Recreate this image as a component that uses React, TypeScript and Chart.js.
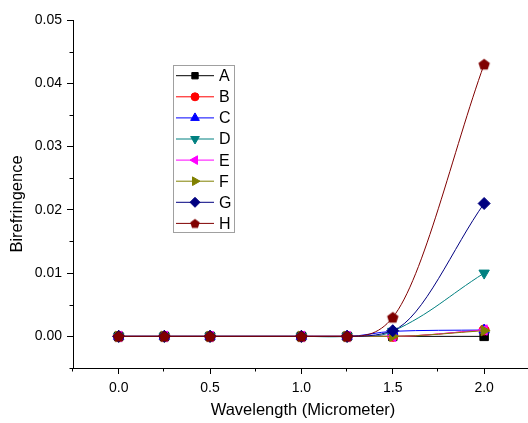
import React, { useEffect, useRef } from 'react';
import { Chart, registerables } from 'chart.js';
import { drawPoint } from 'chart.js/helpers';

Chart.register(...registerables);

// ---- data ----
const wavelengths = [0, 0.25, 0.5, 1.0, 1.25, 1.5, 2.0];
const seriesNames = ['A', 'B', 'C', 'D', 'E', 'F', 'G', 'H'];
const seriesA = [0, 0, 0, 0, 0, 0, 0];
const seriesB = [0, 0, 0, 0, 0, 0, 0.001];
const seriesC = [0, 0, 0, 0, 0, 0.0008, 0.001];
const seriesD = [0, 0, 0, 0, 0, 0.0008, 0.01];
const seriesE = [0, 0, 0, 0, 0, 0, 0.001];
const seriesF = [0, 0, 0, 0, 0, 0, 0.0009];
const seriesG = [0, 0, 0, 0, 0, 0.0009, 0.021];
const seriesH = [0, 0, 0, 0, 0, 0.003, 0.043];
const allSeries = [seriesA, seriesB, seriesC, seriesD, seriesE, seriesF, seriesG, seriesH];

const xTickValues = [0, 0.5, 1.0, 1.5, 2.0];
const xMinorTicks = [-0.25, 0.25, 0.75, 1.25, 1.75, 2.25];
const yTickValues = [0, 0.01, 0.02, 0.03, 0.04, 0.05];
const yMinorTicks = [-0.005, 0.005, 0.015, 0.025, 0.035, 0.045];

const xTitle = 'Wavelength (Micrometer)';
const yTitle = 'Birefringence';

// ---- styles ----
const colors = ['#000000', '#ff0000', '#0000ff', '#008080', '#ff00ff', '#808000', '#000080', '#800000'];
const FONT = '"Liberation Sans", Arial, sans-serif';

function makePentagon(color: string, r: number) {
  const size = Math.ceil(r * 2 + 2);
  const c = document.createElement('canvas');
  c.width = size;
  c.height = size;
  const ctx = c.getContext('2d')!;
  ctx.beginPath();
  for (let i = 0; i < 5; i++) {
    const a = -Math.PI / 2 + (i * 2 * Math.PI) / 5;
    const px = size / 2 + r * Math.cos(a);
    const py = size / 2 + r * Math.sin(a) + 0.5;
    if (i === 0) ctx.moveTo(px, py);
    else ctx.lineTo(px, py);
  }
  ctx.closePath();
  ctx.fillStyle = color;
  ctx.fill();
  return c;
}

export default function App() {
  const ref = useRef<HTMLCanvasElement>(null);

  useEffect(() => {
    if (!ref.current) return;
    const pentData = makePentagon(colors[7], 6);
    const pentLegend = makePentagon(colors[7], 5);
    const styles: any[] = ['rect', 'circle', 'triangle', 'triangle', 'triangle', 'triangle', 'rectRot', pentData];
    const legendStyles: any[] = ['rect', 'circle', 'triangle', 'triangle', 'triangle', 'triangle', 'rectRot', pentLegend];
    const rotations = [0, 0, 0, 180, 270, 90, 0, 0];
    const radii = [6, 5, 6, 6, 6, 6, 6, 5];
    const legendRadii = [4.5, 4, 5, 5, 5, 5, 5, 4];
    const interp = ['monotone', 'monotone', 'monotone', 'default', 'monotone', 'monotone', 'monotone', 'monotone'];

    const datasets = allSeries.map((s, i) => ({
      label: seriesNames[i],
      data: s.map((v, j) => ({ x: wavelengths[j], y: v })),
      borderColor: colors[i],
      backgroundColor: colors[i],
      pointBackgroundColor: colors[i],
      pointBorderColor: colors[i],
      pointBorderWidth: 1,
      borderWidth: 1,
      pointStyle: styles[i],
      pointRotation: rotations[i],
      pointRadius: radii[i],
      tension: 0.4,
      cubicInterpolationMode: interp[i] as any,
      order: 7 - i,
    }));

    const decorPlugin = {
      id: 'decor',
      afterDraw(chart: any) {
        const ctx = chart.ctx as CanvasRenderingContext2D;
        const area = chart.chartArea;
        const xs = chart.scales.x;
        const ys = chart.scales.y;
        ctx.save();
        // minor ticks
        ctx.strokeStyle = '#000';
        ctx.lineWidth = 1;
        ctx.beginPath();
        yMinorTicks.forEach((v) => {
          const py = Math.round(ys.getPixelForValue(v)) + 0.5;
          ctx.moveTo(area.left - 3.5, py);
          ctx.lineTo(area.left, py);
        });
        xMinorTicks.forEach((v) => {
          const px = Math.round(xs.getPixelForValue(v)) - 0.5;
          ctx.moveTo(px, area.bottom);
          ctx.lineTo(px, area.bottom + 3.5);
        });
        ctx.stroke();

        // axis titles
        ctx.fillStyle = '#000';
        ctx.font = `16.5px ${FONT}`;
        ctx.textAlign = 'center';
        ctx.textBaseline = 'middle';
        ctx.fillText(xTitle, 303, 410);
        ctx.save();
        ctx.translate(17, 204);
        ctx.rotate(-Math.PI / 2);
        ctx.fillText(yTitle, 0, 0);
        ctx.restore();

        // legend
        const bx = 173.5, by = 65.5, bw = 61, bh = 167;
        ctx.strokeStyle = '#a0a0a0';
        ctx.lineWidth = 1;
        ctx.strokeRect(bx, by, bw, bh);
        ctx.font = `16px ${FONT}`;
        ctx.textAlign = 'left';
        seriesNames.forEach((name, i) => {
          const y = 75.7 + i * 21.1;
          ctx.strokeStyle = colors[i];
          ctx.fillStyle = colors[i];
          ctx.lineWidth = 1;
          ctx.beginPath();
          ctx.moveTo(176, y);
          ctx.lineTo(214, y);
          ctx.stroke();
          drawPoint(ctx, { pointStyle: legendStyles[i], rotation: rotations[i], radius: legendRadii[i], borderWidth: 1 } as any, 195, y);
          ctx.fillStyle = '#000';
          ctx.fillText(name, 219, y + 1);
        });
        ctx.restore();
      },
    };

    const chart = new Chart(ref.current, {
      type: 'line',
      data: { datasets },
      options: {
        animation: false,
        responsive: false,
        devicePixelRatio: 1,
        layout: { autoPadding: false, padding: { top: 20, right: 0, left: 0, bottom: 0 } },
        plugins: { legend: { display: false }, tooltip: { enabled: false } },
        scales: {
          x: {
            type: 'linear',
            position: 'bottom',
            min: -0.25,
            max: 2.24,
            grid: { drawOnChartArea: false, drawTicks: true, tickLength: 6, tickColor: '#000', tickWidth: 1 },
            border: { display: true, color: '#000', width: 1 },
            ticks: {
              font: { size: 14, family: FONT },
              color: '#000',
              padding: 6,
              maxRotation: 0,
              autoSkip: false,
              callback: (v: any) => Number(v).toFixed(1),
            },
            afterBuildTicks: (s: any) => {
              s.ticks = xTickValues.map((v) => ({ value: v }));
            },
            afterFit: (s: any) => {
              s.height = 55;
            },
          },
          y: {
            type: 'linear',
            min: -0.005,
            max: 0.05,
            grid: { drawOnChartArea: false, drawTicks: true, tickLength: 6, tickColor: '#000', tickWidth: 1 },
            border: { display: true, color: '#000', width: 1 },
            ticks: {
              font: { size: 14, family: FONT },
              color: '#000',
              padding: 5,
              autoSkip: false,
              callback: (v: any) => Number(v).toFixed(2),
            },
            afterBuildTicks: (s: any) => {
              s.ticks = yTickValues.map((v) => ({ value: v }));
            },
            afterFit: (s: any) => {
              s.width = 73;
            },
          },
        },
      },
      plugins: [decorPlugin],
    });
    return () => chart.destroy();
  }, []);

  return (
    <div style={{ position: 'fixed', left: 0, top: 0, width: 528, height: 423, background: '#fff' }}>
      <canvas ref={ref} width={528} height={423} />
    </div>
  );
}
